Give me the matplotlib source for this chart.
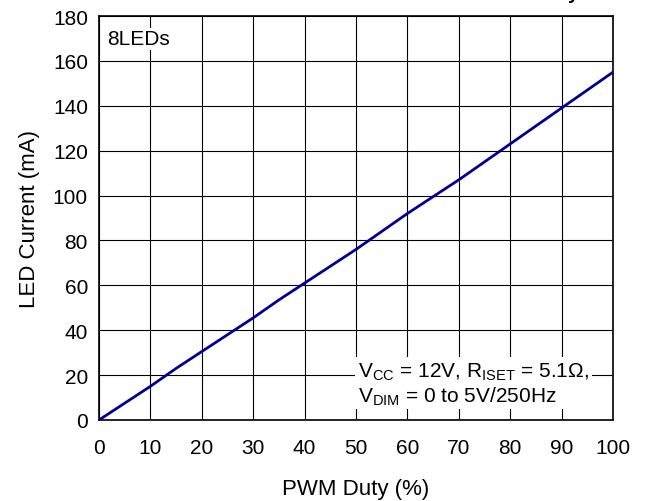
import numpy as np
import matplotlib.pyplot as plt

plt.rcParams['font.family'] = ['Liberation Sans', 'DejaVu Sans']
plt.rcParams['mathtext.fontset'] = 'custom'
plt.rcParams['mathtext.rm'] = 'Liberation Sans'

# PWM duty (%) vs LED current (mA)
duty = [0, 5, 10, 15, 20, 25, 30, 35, 40, 45, 50, 55, 60, 65, 70, 75, 80, 85, 90, 95, 100]
current = [0, 7.5, 15, 23, 30.5, 38, 45.5, 53.5, 61, 68.5, 76, 84, 92, 99.5, 107, 115, 123, 131, 139, 147, 155]

xticks = list(range(0, 101, 10))
yticks = list(range(0, 181, 20))

fig = plt.figure(figsize=(6.52, 5.02), dpi=100)
ax = fig.add_axes([99 / 652, 1 - 421 / 502, 514 / 652, 404 / 502])

ax.plot(duty, current, color='#000090', lw=2, zorder=3)

ax.set_xlim(0, 100)
ax.set_ylim(0, 180)
ax.set_xticks(xticks)
ax.set_yticks(yticks)
ax.grid(True, color='black', lw=0.8)
ax.tick_params(length=0, labelsize=15)
ax.tick_params(axis='x', pad=13)
ax.tick_params(axis='y', pad=8)
for s in ax.spines.values():
    s.set_linewidth(1.2)

ax.set_xlabel('PWM Duty (%)', fontsize=16, labelpad=15)
ax.set_ylabel('LED Current (mA)', fontsize=16, labelpad=9)

ax.text(1.6, 174, '8LEDs', fontsize=15, va='top', ha='left',
        bbox=dict(facecolor='white', edgecolor='none', pad=1), zorder=4)
ax.text(50.4, 16.3,
        r'V$_{\mathrm{CC}}$ = 12V, R$_{\mathrm{ISET}}$ = 5.1Ω,' + '\n' + r'V$_{\mathrm{DIM}}$ = 0 to 5V/250Hz',
        fontsize=15, va='center', ha='left', linespacing=1.15,
        bbox=dict(facecolor='white', edgecolor='none', pad=2), zorder=4)

# clipped title at the top edge
fig.text(579 / 652, 1 + 1 / 502, 'LED Current vs. PWM Duty', ha='right', va='baseline',
         fontsize=14, fontweight='bold')

fig.savefig('out.png', dpi=100)
